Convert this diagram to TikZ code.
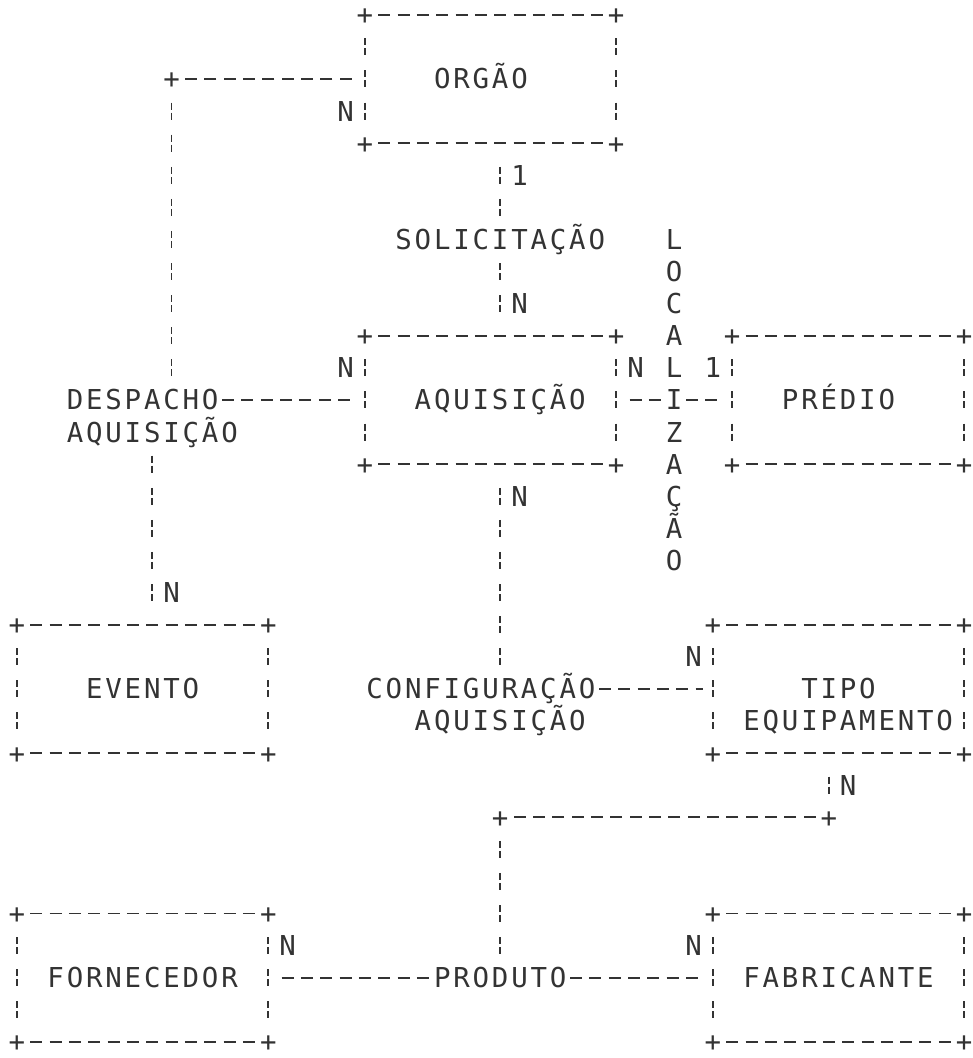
\documentclass[tikz,border=0pt]{standalone}
\usepackage{fontspec}
\newfontfamily\dotfont[LetterSpace=10.25]{DejaVu Sans Mono}
\colorlet{ink}{black!80}
\tikzset{
	txt/.style={font=\dotfont\fontsize{19.5pt}{22.83pt}\selectfont, text=ink, inner sep=0pt, outer sep=0pt, text height=18.53pt, text depth=4.31pt},
	crn/.style={txt, text height=14.22pt, text depth=0pt},
	ebox/.style={txt, rectangle, minimum width=6.28225cm, minimum height=3.21cm},
	hl/.style={draw=ink, line width=1.2pt, dash pattern=on 0.3cm off 0.18325cm, dash phase=0.391625cm},
	vl/.style={draw=ink, line width=1.2pt, dash pattern=on 0.175cm off 0.075cm on 0.175cm off 0.3775cm, dash phase=0.61375cm},
	hs/.style={shorten <=0.241625cm},
	he/.style={shorten >=0.241625cm},
	vs/.style={shorten <=0.40125cm},
	ve/.style={shorten >=0.40125cm}
}
\begin{document}
\begin{tikzpicture}[x=0.48325cm, y=-0.8025cm]
		\useasboundingbox (-0.8795,-0.46) rectangle (49.457,32.5);
		
		%Entities
		\node (orgao) at (24.5,2) [ebox]{ORGÃO\hspace*{0.48325cm}};
		\node (aquisicao) at (24.5,12) [ebox]{\hspace*{0.48325cm}AQUISIÇÃO};
		\node (predio) at (43,12) [ebox, minimum width=5.799cm]{PRÉDIO\hspace*{0.48325cm}};
		\node (evento) at (6.5,21) [ebox]{EVENTO};
		\node (tipo) at (42.5,21) [ebox]{TIPO};
		\node (tipob) at (43,22) [txt]{EQUIPAMENTO};
		\node (fornecedor) at (6.5,30) [ebox]{FORNECEDOR};
		\node (fabricante) at (42.5,30) [ebox]{FABRICANTE};
		
		%Relationships
		\node (solicitacao) at (25,7) [txt]{SOLICITAÇÃO};
		\node (despacho) at (6.5,12) [txt]{DESPACHO};
		\node (despachob) at (7,13) [txt]{AQUISIÇÃO};
		\node (configuracao) at (24,21) [txt]{CONFIGURAÇÃO};
		\node (configuracaob) at (25,22) [txt]{AQUISIÇÃO};
		\node (produto) at (25,30) [txt]{PRODUTO};
		\foreach \l [count=\i from 7] in {L,O,C,A,L,I,Z,A,Ç,Ã,O}
		\node (loc\i) at (34,\i) [txt]{\l};
		
		%Box sides
		\foreach \b in {orgao,aquisicao,predio,evento,tipo,fornecedor,fabricante}{
			\draw[hl,hs,he] (\b.north west) -- (\b.north east);
			\draw[hl,hs,he] (\b.south west) -- (\b.south east);
			\draw[vl,vs,ve] (\b.north west) -- (\b.south west);
			\draw[vl,vs,ve] (\b.north east) -- (\b.south east);
			\foreach \a [count=\j] in {north west,north east,south west,south east}
			\node (\b\j) at (\b.\a) [crn]{+};
		}
		
		%Bends
		\coordinate (k1) at (8,2);
		\coordinate (k2) at (42,25);
		\coordinate (k3) at (25,25);
		\node (k1p) at (k1) [crn]{+};
		\node (k2p) at (k2) [crn]{+};
		\node (k3p) at (k3) [crn]{+};
		
		%Links
		\draw[hl,hs,he] (orgao.west) -- (k1);
		\draw[vl,vs] (k1) -- (k1 |- despacho.north);
		\draw[hl,he] (despacho.east) -- (aquisicao.west);
		\draw[vl,ve] (despachob.south) -- (despachob.south |- evento.north);
		
		\draw[vl,vs] (solicitacao.north |- orgao.south) -- (solicitacao.north);
		\draw[vl,ve] (solicitacao.south) -- (solicitacao.south |- aquisicao.north);
		\draw[vl,vs] (configuracaob.north |- aquisicao.south) -- (configuracaob.north |- configuracao.north);
		
		\draw[hl,hs] (aquisicao.east) -- (loc12.west);
		\draw[hl,he] (loc12.east) -- (predio.west);
		\draw[hl,he] (configuracao.east) -- (tipo.west);
		
		\draw[vl,vs,ve] (tipo.south -| k2) -- (k2);
		\draw[hl,hs,he] (k2) -- (k3);
		\draw[vl,vs] (k3) -- (produto.north);
		\draw[hl,hs] (fornecedor.east) -- (produto.west);
		\draw[hl,he] (produto.east) -- (fabricante.west);
		
		%Cardinalities
		\foreach \x/\y/\t [count=\i] in {17/3/N, 26/5/1, 26/9/N, 17/11/N, 32/11/N, 36/11/1, 26/15/N, 8/18/N, 35/20/N, 43/24/N, 14/29/N, 35/29/N}
		\node (card\i) at (\x,\y) [txt]{\t};
		
\end{tikzpicture}
\end{document}
